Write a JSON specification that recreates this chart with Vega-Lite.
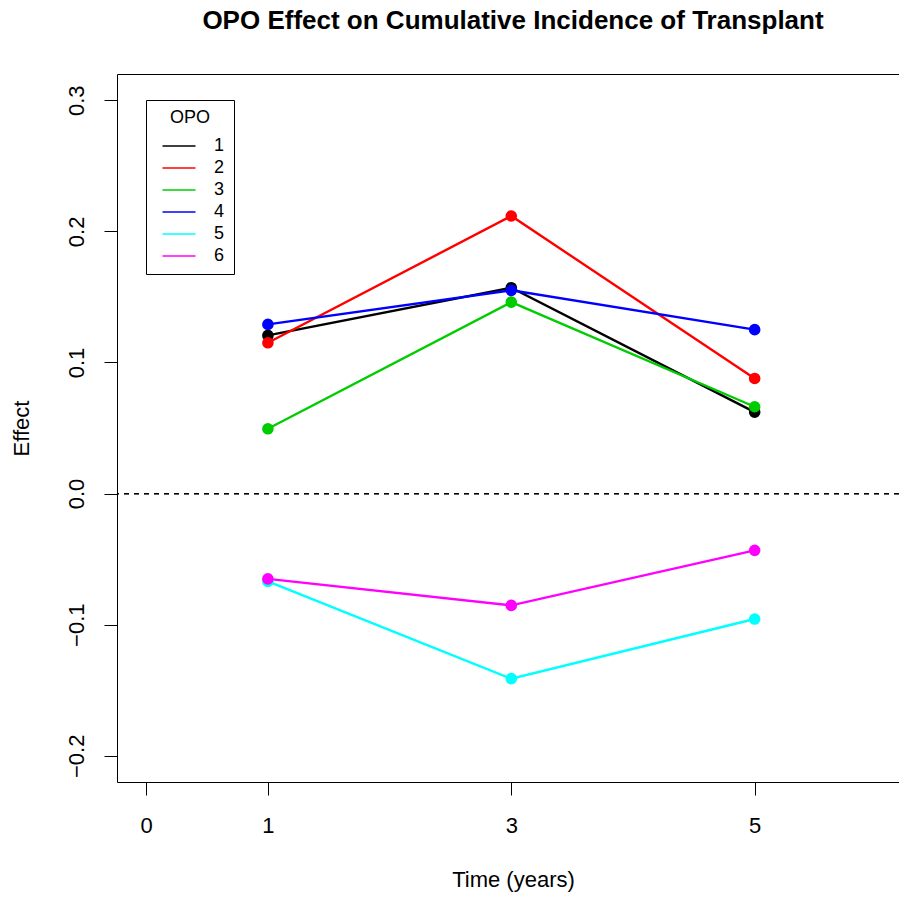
{
  "$schema": "https://vega.github.io/schema/vega-lite/v6.json",
  "width": 782,
  "height": 708,
  "autosize": {"type": "none"},
  "padding": {"left": 117, "top": 74, "right": 0, "bottom": 117},
  "background": "white",
  "config": {
    "view": {"stroke": null},
    "font": "Liberation Sans",
    "axis": {
      "grid": false,
      "domainColor": "black",
      "domainWidth": 1,
      "tickColor": "black",
      "tickWidth": 1,
      "tickSize": 13,
      "labelColor": "black",
      "labelFontSize": 22,
      "titleColor": "black",
      "titleFontSize": 22,
      "titleFontWeight": "normal",
      "labelFont": "Liberation Sans",
      "titleFont": "Liberation Sans"
    }
  },
  "title": {
    "text": "OPO Effect on Cumulative Incidence of Transplant",
    "font": "Liberation Sans",
    "fontSize": 26,
    "fontWeight": "bold",
    "color": "black",
    "anchor": "middle",
    "baseline": "alphabetic",
    "offset": 19,
    "dx": 5
  },
  "data": {
    "values": [
      {"opo": "1", "time": 1, "effect": 0.1206},
      {"opo": "1", "time": 3, "effect": 0.157},
      {"opo": "1", "time": 5, "effect": 0.0621},
      {"opo": "2", "time": 1, "effect": 0.115},
      {"opo": "2", "time": 3, "effect": 0.2117},
      {"opo": "2", "time": 5, "effect": 0.0878},
      {"opo": "3", "time": 1, "effect": 0.0494},
      {"opo": "3", "time": 3, "effect": 0.146},
      {"opo": "3", "time": 5, "effect": 0.0662},
      {"opo": "4", "time": 1, "effect": 0.129},
      {"opo": "4", "time": 3, "effect": 0.155},
      {"opo": "4", "time": 5, "effect": 0.125},
      {"opo": "5", "time": 1, "effect": -0.067},
      {"opo": "5", "time": 3, "effect": -0.1412},
      {"opo": "5", "time": 5, "effect": -0.0957},
      {"opo": "6", "time": 1, "effect": -0.0651},
      {"opo": "6", "time": 3, "effect": -0.0853},
      {"opo": "6", "time": 5, "effect": -0.0433}
    ]
  },
  "layer": [
    {
      "mark": {"type": "rule", "color": "black", "strokeWidth": 1, "strokeDash": [5, 5]},
      "encoding": {
        "y": {"datum": 0, "type": "quantitative", "axis": null}
      }
    },
    {
      "mark": {"type": "line", "strokeWidth": 2.4},
      "encoding": {
        "x": {
          "field": "time",
          "type": "quantitative",
          "scale": {"domain": [-0.24, 6.186], "nice": false, "zero": false},
          "axis": {
            "orient": "bottom",
            "values": [0, 1, 3, 5],
            "format": "d",
            "labelBaseline": "alphabetic",
            "labelPadding": 37,
            "title": "Time (years)",
            "titleBaseline": "alphabetic",
            "titleAlign": "center",
            "titleAnchor": "start",
            "titleX": 396,
            "titleY": 104
          }
        },
        "y": {
          "field": "effect",
          "type": "quantitative",
          "scale": {"domain": [-0.22, 0.32], "nice": false, "zero": false},
          "axis": {
            "orient": "left",
            "values": [-0.2, -0.1, 0, 0.1, 0.2, 0.3],
            "format": ".1f",
            "labelAngle": 270,
            "labelAlign": "center",
            "labelBaseline": "alphabetic",
            "labelPadding": 21,
            "title": "Effect",
            "titleAngle": 270,
            "titleAlign": "center",
            "titleBaseline": "alphabetic",
            "titleAnchor": "start",
            "titleX": -89,
            "titleY": 354
          }
        },
        "color": {
          "field": "opo",
          "type": "nominal",
          "scale": {
            "domain": ["1", "2", "3", "4", "5", "6"],
            "range": ["#000000", "#FF0000", "#00CD00", "#0000FF", "#00FFFF", "#FF00FF"]
          },
          "legend": {
            "title": "OPO",
            "orient": "none",
            "legendX": 29,
            "legendY": 26,
            "direction": "vertical",
            "padding": 9,
            "strokeColor": "black",
            "fillColor": "white",
            "titleFont": "Liberation Sans",
            "titleFontSize": 18,
            "titleFontWeight": "normal",
            "titleColor": "black",
            "titleAnchor": "middle",
            "titlePadding": 8,
            "labelFont": "Liberation Sans",
            "labelFontSize": 18,
            "labelColor": "black",
            "labelOffset": 24,
            "symbolType": "M-1.65,0L1.65,0",
            "symbolSize": 400,
            "symbolStrokeWidth": 1.5,
            "symbolOffset": 13,
            "rowPadding": 2
          }
        }
      }
    },
    {
      "mark": {"type": "circle", "size": 135, "opacity": 1},
      "encoding": {
        "x": {
          "field": "time",
          "type": "quantitative",
          "axis": {
            "orient": "top",
            "labels": false,
            "ticks": false,
            "title": null,
            "domain": true
          }
        },
        "y": {"field": "effect", "type": "quantitative", "axis": null},
        "color": {"field": "opo", "type": "nominal", "legend": null}
      }
    }
  ],
  "resolve": {"axis": {"x": "independent", "y": "independent"}}
}
